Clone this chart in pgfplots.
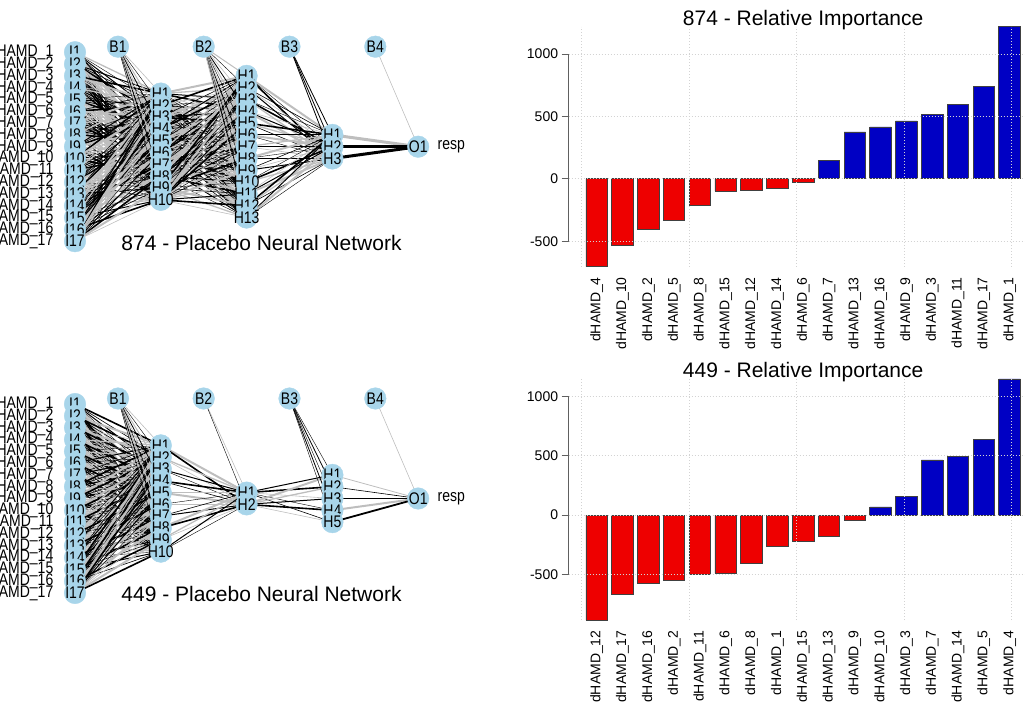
\documentclass[border=0pt]{standalone}
\usepackage{pgfplots}
\pgfplotsset{compat=1.18}
\usepackage{pgfplotstable}
\usepackage{fontspec}
\setmainfont{Liberation Sans}
\definecolor{barred}{HTML}{EE0000}
\definecolor{barblue}{HTML}{0000C4}
\definecolor{nodeblue}{HTML}{A8D5EA}
\definecolor{ngray}{HTML}{BEBEBE}
\definecolor{gridcol}{HTML}{D3D3D3}
\definecolor{bord}{HTML}{404040}
\definecolor{axcol}{HTML}{606060}

% edges between two full layers: #1 x1, #2 n1, #3 x2, #4 n2, #5 centre y, #6 #7 pattern seeds
\newcommand\netedges[7]{%
 \foreach \i in {1,...,#2}{%
  \foreach \j in {1,...,#4}{%
   \pgfmathsetmacro\ya{#5+(\i-(#2+1)/2)*11.81}%
   \pgfmathsetmacro\yb{#5+(\j-(#4+1)/2)*11.81}%
   \pgfmathtruncatemacro\k{mod(\i*#6+\j*#7,7)}%
   \ifcase\k\relax \def\sty{black, line width=1.6bp}%
   \or \def\sty{ngray, line width=1.3bp}%
   \or \def\sty{black, line width=0.6bp}%
   \or \def\sty{ngray, line width=0.6bp}%
   \or \def\sty{black, line width=1.0bp}%
   \or \def\sty{ngray, line width=2.0bp}%
   \else \def\sty{black, line width=0.4bp}%
   \fi
   \edef\tmp{\noexpand\addplot[\sty, forget plot] coordinates {(#1,\ya) (#3,\yb)};}\tmp
  }}}
% edges from a bias node: #1 xb, #2 yb, #3 x2, #4 n2, #5 centre y, #6 seed
\newcommand\biasedges[6]{%
 \foreach \j in {1,...,#4}{%
   \pgfmathsetmacro\yb{#5+(\j-(#4+1)/2)*11.81}%
   \pgfmathtruncatemacro\k{mod(\j*#6,4)}%
   \ifcase\k\relax \def\sty{black, line width=0.8bp}%
   \or \def\sty{ngray, line width=0.6bp}%
   \or \def\sty{black, line width=0.4bp}%
   \else \def\sty{ngray, line width=1bp}%
   \fi
   \edef\tmp{\noexpand\addplot[\sty, forget plot] coordinates {(#1,#2) (#3,\yb)};}\tmp
 }}

\pgfplotstableread{
x y lab
75 52.22 I1
75 64.03 I2
75 75.84 I3
75 87.65 I4
75 99.46 I5
75 111.27 I6
75 123.08 I7
75 134.89 I8
75 146.70 I9
75 158.51 I10
75 170.32 I11
75 182.13 I12
75 193.94 I13
75 205.75 I14
75 217.56 I15
75 229.37 I16
75 241.18 I17
160.8 93.56 H1
160.8 105.37 H2
160.8 117.18 H3
160.8 128.99 H4
160.8 140.80 H5
160.8 152.60 H6
160.8 164.41 H7
160.8 176.22 H8
160.8 188.03 H9
160.8 199.84 H10
246.6 75.84 H1
246.6 87.65 H2
246.6 99.46 H3
246.6 111.27 H4
246.6 123.08 H5
246.6 134.89 H6
246.6 146.70 H7
246.6 158.51 H8
246.6 170.32 H9
246.6 182.13 H10
246.6 193.94 H11
246.6 205.75 H12
246.6 217.56 H13
332.4 134.89 H1
332.4 146.70 H2
332.4 158.51 H3
418.2 146.70 O1
118.0 46.7 B1
203.7 46.7 B2
289.5 46.7 B3
375.3 46.7 B4
}\topnodes

\pgfplotstableread{
x y lab
75 404.02 I1
75 415.83 I2
75 427.64 I3
75 439.45 I4
75 451.26 I5
75 463.07 I6
75 474.88 I7
75 486.69 I8
75 498.50 I9
75 510.31 I10
75 522.12 I11
75 533.93 I12
75 545.74 I13
75 557.55 I14
75 569.36 I15
75 581.17 I16
75 592.98 I17
160.8 445.36 H1
160.8 457.17 H2
160.8 468.98 H3
160.8 480.79 H4
160.8 492.60 H5
160.8 504.40 H6
160.8 516.21 H7
160.8 528.02 H8
160.8 539.83 H9
160.8 551.64 H10
246.6 492.60 H1
246.6 504.40 H2
332.4 474.88 H1
332.4 486.69 H2
332.4 498.50 H3
332.4 510.31 H4
332.4 522.12 H5
418.2 498.50 O1
118.0 398.5 B1
203.7 398.5 B2
289.5 398.5 B3
375.3 398.5 B4
}\botnodes

\pgfplotstableread{
x y lab
53.5 52.22 dHAMD\_1
53.5 64.03 dHAMD\_2
53.5 75.84 dHAMD\_3
53.5 87.65 dHAMD\_4
53.5 99.46 dHAMD\_5
53.5 111.27 dHAMD\_6
53.5 123.08 dHAMD\_7
53.5 134.89 dHAMD\_8
53.5 146.70 dHAMD\_9
53.5 158.51 dHAMD\_10
53.5 170.32 dHAMD\_11
53.5 182.13 dHAMD\_12
53.5 193.94 dHAMD\_13
53.5 205.75 dHAMD\_14
53.5 217.56 dHAMD\_15
53.5 229.37 dHAMD\_16
53.5 241.18 dHAMD\_17
53.5 404.02 dHAMD\_1
53.5 415.83 dHAMD\_2
53.5 427.64 dHAMD\_3
53.5 439.45 dHAMD\_4
53.5 451.26 dHAMD\_5
53.5 463.07 dHAMD\_6
53.5 474.88 dHAMD\_7
53.5 486.69 dHAMD\_8
53.5 498.50 dHAMD\_9
53.5 510.31 dHAMD\_10
53.5 522.12 dHAMD\_11
53.5 533.93 dHAMD\_12
53.5 545.74 dHAMD\_13
53.5 557.55 dHAMD\_14
53.5 569.36 dHAMD\_15
53.5 581.17 dHAMD\_16
53.5 592.98 dHAMD\_17
}\inlabels

\pgfplotstableread{
x y lab
437.5 146.70 resp
437.5 498.50 resp
}\outlabels

\newcommand\netfont{\fontsize{14bp}{15bp}\selectfont}
\newcommand\titlefont{\fontsize{21bp}{24bp}\selectfont}

\pgfplotsset{
 barax/.style={anchor=south west, scale only axis, width=469.1bp,
  xmin=-0.608, xmax=21.208,
  axis line style={draw=none},
  ytick={-500,0,500,1000}, yticklabels={{-500},0,500,1000},
  ytick pos=left, tick align=outside, major tick length=7bp,
  ytick style={axcol, line width=0.8bp},
  xtick={0.7,1.9,3.1,4.3,5.5,6.7,7.9,9.1,10.3,11.5,12.7,13.9,15.1,16.3,17.5,18.7,19.9},
  xtick style={draw=none},
  xticklabel style={rotate=90, anchor=east},
  tick label style={font=\fontsize{14bp}{16bp}\selectfont},
  clip=false,
  every axis title shift=0pt,
  title style={at={(0.5,1)}, anchor=base, yshift=1.5bp, font=\titlefont},
 },
 barsty/.style={ybar, bar width=1, bar shift=0, draw=bord, line width=0.8bp},
 gridsty/.style={gridcol, line width=0.8bp, dash pattern=on 1bp off 2bp},
 netlab/.style={nodes near coords={\scalebox{1}[1.2]{\pgfplotspointmeta}},
   point meta=explicit symbolic,
   every node near coord/.style={anchor=#1, text=black, font=\netfont, inner sep=0pt}},
}

\begin{document}
\begin{tikzpicture}
\useasboundingbox (0,0) rectangle (1025bp,708bp);

% ---------------- networks ----------------
\begin{axis}[at={(0bp,0bp)}, anchor=south west, scale only axis,
  width=470bp, height=708bp, xmin=0, xmax=470, ymin=0, ymax=708,
  y dir=reverse, hide axis, clip=false]
 % top network edges
 \netedges{75}{17}{160.8}{10}{146.7}{3}{5}
 \netedges{160.8}{10}{246.6}{13}{146.7}{2}{3}
 \netedges{246.6}{13}{332.4}{3}{146.7}{4}{1}
 \biasedges{118.0}{46.7}{160.8}{10}{146.7}{1}
 \biasedges{203.7}{46.7}{246.6}{13}{146.7}{3}
 \biasedges{289.5}{46.7}{332.4}{3}{146.7}{4}
 \addplot[ngray, line width=0.6bp, forget plot] coordinates {(375.3,46.7) (418.2,146.7)};
 \addplot[ngray, line width=3bp, forget plot] coordinates {(332.4,134.89) (418.2,146.7)};
 \addplot[black, line width=3bp, forget plot] coordinates {(332.4,146.7) (418.2,146.7)};
 \addplot[black, line width=3bp, forget plot] coordinates {(332.4,158.51) (418.2,146.7)};
 % bottom network edges
 \netedges{75}{17}{160.8}{10}{498.5}{5}{2}
 \netedges{160.8}{10}{246.6}{2}{498.5}{3}{2}
 \netedges{246.6}{2}{332.4}{5}{498.5}{1}{3}
 \biasedges{118.0}{398.5}{160.8}{10}{498.5}{1}
 \biasedges{203.7}{398.5}{246.6}{2}{498.5}{1}
 \biasedges{289.5}{398.5}{332.4}{5}{498.5}{2}
 \addplot[ngray, line width=0.6bp, forget plot] coordinates {(375.3,398.5) (418.2,498.5)};
 \addplot[ngray, line width=0.8bp, forget plot] coordinates {(332.4,474.88) (418.2,498.5)};
 \addplot[black, line width=0.6bp, forget plot] coordinates {(332.4,486.69) (418.2,498.5)};
 \addplot[black, line width=0.6bp, forget plot] coordinates {(332.4,498.5) (418.2,498.5)};
 \addplot[ngray, line width=2bp, forget plot] coordinates {(332.4,510.31) (418.2,498.5)};
 \addplot[black, line width=1.8bp, forget plot] coordinates {(332.4,522.12) (418.2,498.5)};
 % nodes
 \addplot[only marks, mark=*, mark size=10.8bp, mark options={draw=nodeblue, fill=nodeblue},
   netlab=center] table[x=x, y=y, meta=lab] {\topnodes};
 \addplot[only marks, mark=*, mark size=10.8bp, mark options={draw=nodeblue, fill=nodeblue},
   netlab=center] table[x=x, y=y, meta=lab] {\botnodes};
 % input / output names
 \addplot[draw=none, mark=none, netlab=east] table[x=x, y=y, meta=lab] {\inlabels};
 \addplot[draw=none, mark=none, netlab=west] table[x=x, y=y, meta=lab] {\outlabels};
 \node[anchor=base, font=\titlefont] at (axis cs:261.5,250) {874 - Placebo Neural Network};
 \node[anchor=base, font=\titlefont] at (axis cs:261.5,601.7) {449 - Placebo Neural Network};
\end{axis}

% ---------------- top bar chart ----------------
\begin{axis}[barax, at={(568.6bp,441.3bp)}, height=240bp, ymin=-704, ymax=1220,
  title={874 - Relative Importance},
  xticklabels={dHAMD\_4,dHAMD\_10,dHAMD\_2,dHAMD\_5,dHAMD\_8,dHAMD\_15,dHAMD\_12,dHAMD\_14,dHAMD\_6,dHAMD\_7,dHAMD\_13,dHAMD\_16,dHAMD\_9,dHAMD\_3,dHAMD\_11,dHAMD\_17,dHAMD\_1}]
 \addplot[barsty, fill=barred] coordinates {(0.7,-704) (1.9,-530) (3.1,-405) (4.3,-336) (5.5,-216) (6.7,-98) (7.9,-96) (9.1,-74) (10.3,-26)};
 \addplot[barsty, fill=barblue] coordinates {(11.5,150) (12.7,376) (13.9,416) (15.1,464) (16.3,518) (17.5,598) (18.7,744) (19.9,1220)};
 \addplot[gridsty] coordinates {(0,-704) (0,1220)};
 \addplot[gridsty] coordinates {(5,-704) (5,1220)};
 \addplot[gridsty] coordinates {(10,-704) (10,1220)};
 \addplot[gridsty] coordinates {(15,-704) (15,1220)};
 \addplot[gridsty] coordinates {(20,-704) (20,1220)};
 \addplot[gridsty] coordinates {(-0.608,-500) (21.208,-500)};
 \addplot[gridsty] coordinates {(-0.608,0) (21.208,0)};
 \addplot[gridsty] coordinates {(-0.608,500) (21.208,500)};
 \addplot[gridsty] coordinates {(-0.608,1000) (21.208,1000)};
 \addplot[axcol, line width=0.8bp] coordinates {(-0.608,-500) (-0.608,1000)};
\end{axis}

% ---------------- bottom bar chart ----------------
\begin{axis}[barax, at={(568.6bp,88bp)}, height=241bp, ymin=-887, ymax=1149,
  title={449 - Relative Importance},
  xticklabels={dHAMD\_12,dHAMD\_17,dHAMD\_16,dHAMD\_2,dHAMD\_11,dHAMD\_6,dHAMD\_8,dHAMD\_1,dHAMD\_15,dHAMD\_13,dHAMD\_9,dHAMD\_10,dHAMD\_3,dHAMD\_7,dHAMD\_14,dHAMD\_5,dHAMD\_4}]
 \addplot[barsty, fill=barred] coordinates {(0.7,-887) (1.9,-667) (3.1,-577) (4.3,-552) (5.5,-498) (6.7,-490) (7.9,-411) (9.1,-262) (10.3,-225) (11.5,-183) (12.7,-45)};
 \addplot[barsty, fill=barblue] coordinates {(13.9,68) (15.1,155) (16.3,465) (17.5,496) (18.7,642) (19.9,1149)};
 \addplot[gridsty] coordinates {(0,-887) (0,1149)};
 \addplot[gridsty] coordinates {(5,-887) (5,1149)};
 \addplot[gridsty] coordinates {(10,-887) (10,1149)};
 \addplot[gridsty] coordinates {(15,-887) (15,1149)};
 \addplot[gridsty] coordinates {(20,-887) (20,1149)};
 \addplot[gridsty] coordinates {(-0.608,-500) (21.208,-500)};
 \addplot[gridsty] coordinates {(-0.608,0) (21.208,0)};
 \addplot[gridsty] coordinates {(-0.608,500) (21.208,500)};
 \addplot[gridsty] coordinates {(-0.608,1000) (21.208,1000)};
 \addplot[axcol, line width=0.8bp] coordinates {(-0.608,-500) (-0.608,1000)};
\end{axis}
\end{tikzpicture}
\end{document}
